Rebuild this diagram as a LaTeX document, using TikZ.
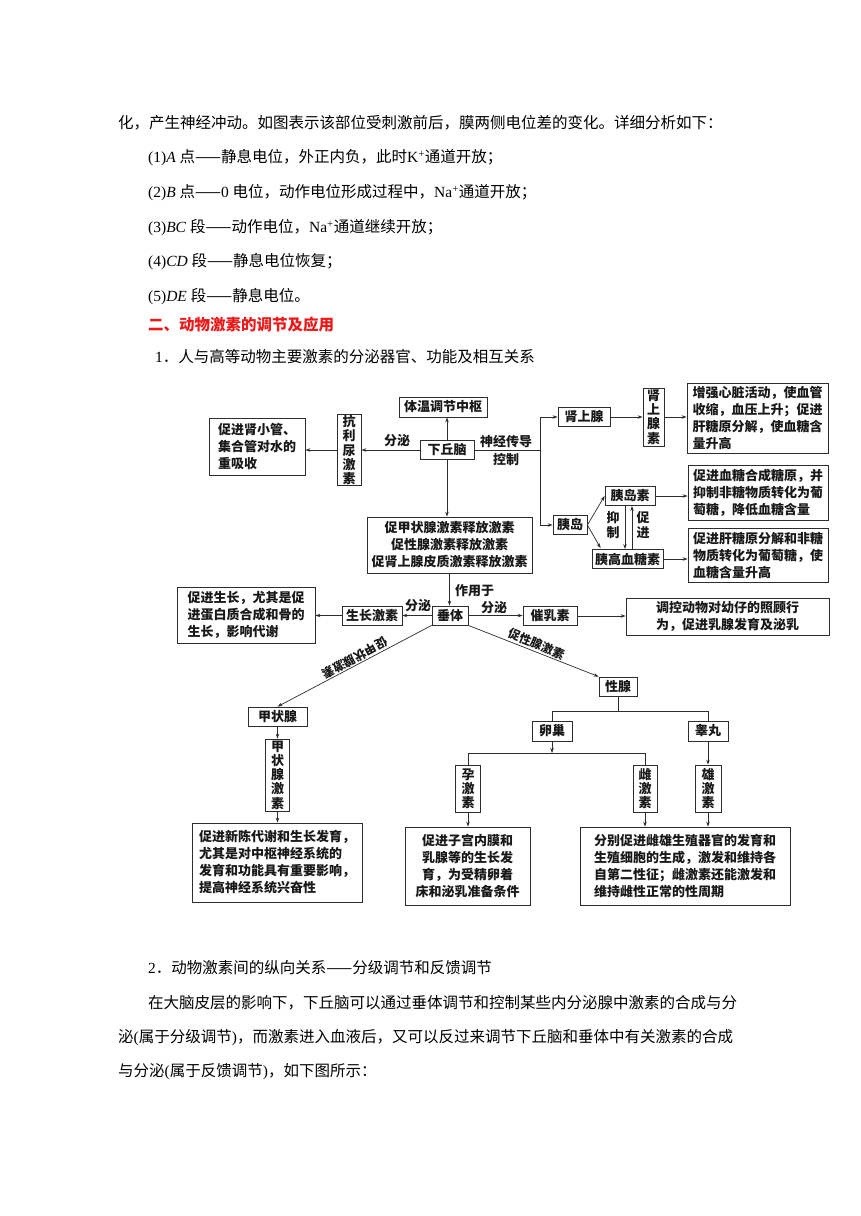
\documentclass[tikz,border=0pt]{standalone}
\usepackage{fontspec}
\setmainfont{Noto Sans CJK SC}
\newfontfamily\lat{Liberation Serif}
\usetikzlibrary{arrows.meta,calc}
\definecolor{redh}{RGB}{235,25,25}
\definecolor{linec}{RGB}{45,45,45}
\newcommand{\bodyfont}{\fontsize{15.5}{15.5}\selectfont}
\newcommand{\dfont}{\fontsize{13}{17}\selectfont\bfseries}
\newcommand{\vfont}{\fontsize{13}{14.2}\selectfont\bfseries}
\begin{document}
\begin{tikzpicture}[x=1pt,y=-1pt,
 bx/.style={draw=linec,line width=0.8pt,inner sep=0pt,font=\dfont,align=center,text=black!90},
 vb/.style={bx,font=\vfont},
 sz/.style 2 args={minimum width=#1pt,minimum height=#2pt},
 arr/.style={draw=linec,line width=0.7pt,-{Stealth[length=5pt,width=3.5pt]}},
 plain/.style={draw=linec,line width=0.7pt},
 lab/.style={font=\dfont,inner sep=0pt,text=black!90},
 body/.style={anchor=west,font=\bodyfont,inner sep=0pt}]
\useasboundingbox[fill=white] (0,0) rectangle (860,1216);
% body text
\node[body] (t1) at (118,123) {化，产生神经冲动。如图表示该部位受刺激前后，膜两侧电位差的变化。详细分析如下：};
\node[body] (t2) at (148,158) {{\lat(1)\textit{A} }点——静息电位，外正内负，此时{\lat K\textsuperscript{+}}通道开放；};
\node[body] (t3) at (148,193) {{\lat(2)\textit{B} }点——{\lat 0 }电位，动作电位形成过程中，{\lat Na\textsuperscript{+}}通道开放；};
\node[body] (t4) at (148,228) {{\lat(3)\textit{BC} }段——动作电位，{\lat Na\textsuperscript{+}}通道继续开放；};
\node[body] (t5) at (148,262) {{\lat(4)\textit{CD} }段——静息电位恢复；};
\node[body] (t6) at (148,297) {{\lat(5)\textit{DE} }段——静息电位。};
\node[body,text=redh,font=\bodyfont\bfseries] (t7) at (148,325) {二、动物激素的调节及应用};
\node[body] (t8) at (155,357) {{\lat 1}．人与高等动物主要激素的分泌器官、功能及相互关系};
\node[body] (t9) at (148,968) {{\lat 2}．动物激素间的纵向关系——分级调节和反馈调节};
\node[body] (t10) at (148,1003) {在大脑皮层的影响下，下丘脑可以通过垂体调节和控制某些内分泌腺中激素的合成与分};
\node[body] (t11) at (118,1038) {泌{\lat(}属于分级调节{\lat)}，而激素进入血液后，又可以反过来调节下丘脑和垂体中有关激素的合成};
\node[body] (t12) at (118,1072) {与分泌{\lat(}属于反馈调节{\lat)}，如下图所示：};
% diagram nodes
\node[bx,sz={88}{20}] (tw) at (443,407) {体温调节中枢};
\node[bx,sz={54}{19}] (xq) at (447,450) {下丘脑};
\node[vb,sz={24}{71}] (kl) at (349,450) {抗\\利\\尿\\激\\素};
\node[bx,sz={96}{57},align=left] (sg) at (257,446.5) {促进肾小管、\\集合管对水的\\重吸收};
\node[bx,sz={165}{56}] (cj) at (449.5,545) {促甲状腺激素释放激素\\促性腺激素释放激素\\促肾上腺皮质激素释放激素};
\node[bx,sz={52}{19}] (sx) at (584,417) {肾上腺};
\node[vb,sz={21}{58}] (sxs) at (653.5,417) {肾\\上\\腺\\素};
\node[bx,sz={141}{70},align=left] (xz) at (757.5,418) {增强心脏活动，使血管\\收缩，血压上升；促进\\肝糖原分解，使血糖含\\量升高};
\node[bx,sz={34}{19}] (yd) at (570,525) {胰岛};
\node[bx,sz={50}{19}] (yds) at (630,496) {胰岛素};
\node[bx,sz={71}{19}] (ygx) at (627.5,559) {胰高血糖素};
\node[bx,sz={140}{55},align=left] (e1) at (758,492.5) {促进血糖合成糖原，并\\抑制非糖物质转化为葡\\萄糖，降低血糖含量};
\node[bx,sz={140}{54},align=left] (e2) at (758,555) {促进肝糖原分解和非糖\\物质转化为葡萄糖，使\\血糖含量升高};
\node[bx,sz={138}{56},align=left] (gz) at (246,615) {促进生长，尤其是促\\进蛋白质合成和骨的\\生长，影响代谢};
\node[bx,sz={60}{19}] (szj) at (372,615.5) {生长激素};
\node[bx,sz={36}{19}] (ct) at (450,615.5) {垂体};
\node[bx,sz={54}{19}] (cr) at (550,616) {催乳素};
\node[bx,sz={203}{37},align=left] (tk) at (727.5,616.5) {调控动物对幼仔的照顾行\\为，促进乳腺发育及泌乳};
\node[bx,sz={38}{19}] (xx) at (618,686.5) {性腺};
\node[bx,sz={59}{19}] (jz) at (277.5,716.5) {甲状腺};
\node[vb,sz={24}{72}] (jzs) at (277.5,775) {甲\\状\\腺\\激\\素};
\node[bx,sz={170}{79},align=left] (xc) at (277,862.5) {促进新陈代谢和生长发育，\\尤其是对中枢神经系统的\\发育和功能具有重要影响，\\提高神经系统兴奋性};
\node[bx,sz={40}{20}] (lcn) at (552,731) {卵巢};
\node[bx,sz={40}{20}] (gw) at (708,731) {睾丸};
\node[vb,sz={25}{47}] (yj) at (468,788.5) {孕\\激\\素};
\node[vb,sz={24}{47}] (cjs) at (645,788.5) {雌\\激\\素};
\node[vb,sz={26}{47}] (xj) at (708,788.5) {雄\\激\\素};
\node[bx,sz={125}{78}] (zg) at (467.5,866) {促进子宫内膜和\\乳腺等的生长发\\育，为受精卵着\\床和泌乳准备条件};
\node[bx,sz={210}{78},align=left] (fb) at (685,866) {分别促进雌雄生殖器官的发育和\\生殖细胞的生成，激发和维持各\\自第二性征；雌激素还能激发和\\维持雌性正常的性周期};
% labels
\node[lab] (fm1) at (397,441) {分泌};
\node[lab,align=center,font=\fontsize{13}{18}\selectfont\bfseries] (sj) at (506,451) {神经传导\\控制};
\node[lab,font=\vfont,align=center] (yz) at (613,525) {抑\\制};
\node[lab,font=\vfont,align=center] (cjl) at (643,525) {促\\进};
\node[lab,anchor=west] (zy) at (455,591) {作用于};
\node[lab] (fm2) at (418,606) {分泌};
\node[lab] (fm3) at (494,608) {分泌};
\node[lab,rotate=208.5,font=\fontsize{12}{12}\selectfont\bfseries] (l1) at (355,658) {促甲状腺激素};
\node[lab,rotate=-22.3,font=\fontsize{12}{12}\selectfont\bfseries] (l2) at (537,644) {促性腺激素};
% connectors
\draw[arr] (xq.north) -- (xq.north |- tw.south);
\draw[arr] (xq.west) -- (kl.east);
\draw[arr] (kl.west) -- (kl.west -| sg.east);
\draw[arr] (xq.south) -- (xq.south |- cj.north);
\coordinate (nb) at (540,450);
\draw[plain] (xq.east) -- (nb);
\draw[arr] (nb) |- (sx.west);
\draw[arr] (nb) |- (yd.west);
\draw[arr] (sx.east) -- (sx.east -| sxs.west);
\draw[arr] (sxs.east) -- (sxs.east -| xz.west);
\draw[arr] (yd.east) -- (yds.west);
\draw[arr] (yd.east) -- ($(ygx.north west)+(9,-1)$);
\draw[arr] ([xshift=-5pt]yds.south) -- ([xshift=-5pt]yds.south |- ygx.north);
\draw[arr] ([xshift=2pt]yds.south |- ygx.north) -- ([xshift=2pt]yds.south);
\draw[arr] (yds.east) -- (yds.east -| e1.west);
\draw[arr] (ygx.east) -- (ygx.east -| e2.west);
\draw[arr] (cj.south) -- (cj.south |- ct.north);
\draw[arr] (ct.west) -- (szj.east);
\draw[arr] (szj.west) -- (szj.west -| gz.east);
\draw[arr] (ct.east) -- (ct.east -| cr.west);
\draw[arr] (cr.east) -- (cr.east -| tk.west);
\draw[arr] (ct.south west) -- (jz.north);
\draw[arr] (ct.south east) -- (xx.north west);
\draw[arr] (jz.south) -- (jz.south |- jzs.north);
\draw[arr] (jzs.south) -- (jzs.south |- xc.north);
\coordinate (h1) at (618,711);
\draw[plain] (xx.south) -- (h1);
\draw[plain] (lcn.north) |- (h1) -| (gw.north);
\coordinate (h2) at (552,753);
\draw[arr] (lcn.south) -- (h2);
\draw[plain] (yj.north) |- (h2) -| (cjs.north);
\draw[arr] (gw.south) -- (gw.south |- xj.north);
\draw[arr] (yj.south) -- (yj.south |- zg.north);
\draw[arr] (cjs.south) -- (cjs.south |- fb.north);
\draw[arr] (xj.south) -- (xj.south |- fb.north);
\end{tikzpicture}
\end{document}
